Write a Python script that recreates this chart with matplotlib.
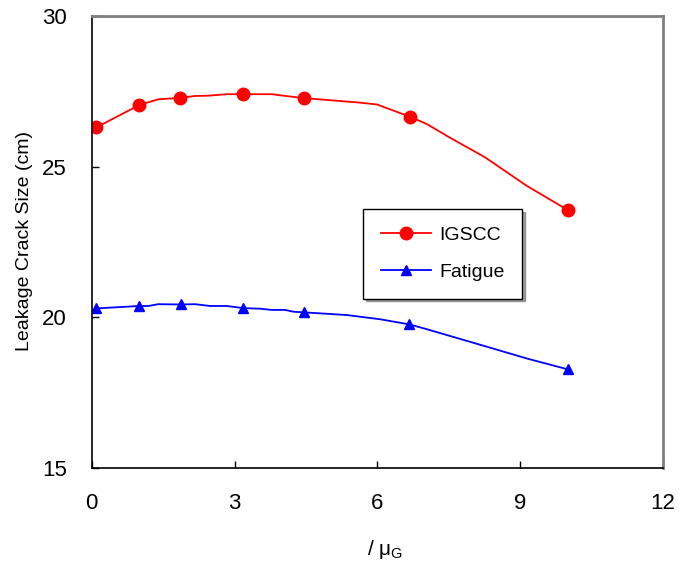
import matplotlib
matplotlib.use("Agg")
import matplotlib.pyplot as plt

plt.rcParams['font.family'] = ['Liberation Sans', 'DejaVu Sans']
plt.rcParams['mathtext.fontset'] = 'custom'
plt.rcParams['mathtext.rm'] = 'Liberation Sans'
plt.rcParams['mathtext.it'] = 'Liberation Sans'

# IGSCC curve
igscc_x = [0.1, 1.0, 1.4, 1.86, 2.17, 2.45, 2.84, 3.18, 3.78, 4.03, 4.45, 5.57, 5.99, 6.69, 7.04, 7.49, 8.26, 9.14, 10.0]
igscc_y = [26.30, 27.04, 27.23, 27.28, 27.34, 27.35, 27.40, 27.40, 27.40, 27.35, 27.27, 27.13, 27.06, 26.65, 26.41, 25.99, 25.31, 24.36, 23.56]
igscc_marks = [0, 1, 3, 7, 10, 13, 18]

# Fatigue curve
fat_x = [0.1, 1.0, 1.19, 1.40, 1.87, 2.17, 2.49, 2.84, 3.18, 3.54, 3.78, 4.06, 4.24, 4.45, 5.36, 6.06, 6.67, 7.04, 8.30, 9.14, 10.0]
fat_y = [20.30, 20.38, 20.38, 20.44, 20.43, 20.44, 20.38, 20.38, 20.31, 20.29, 20.25, 20.25, 20.19, 20.17, 20.08, 19.94, 19.77, 19.61, 19.03, 18.64, 18.28]
fat_marks = [0, 1, 4, 8, 13, 16, 20]

x_ticks = [0, 3, 6, 9, 12]
y_ticks = [15, 20, 25, 30]

fig = plt.figure(figsize=(6.79, 5.62), dpi=100)
ax = fig.add_axes([0.135, 0.1667, 0.8415, 0.8053])

ax.plot(igscc_x, igscc_y, color='#ff0000', lw=1.3, marker='o', ms=9,
        markevery=igscc_marks, label='IGSCC')
ax.plot(fat_x, fat_y, color='#0000ff', lw=1.3, marker='^', ms=7,
        markevery=fat_marks, label='Fatigue')

ax.set_xlim(0, 12)
ax.set_ylim(15, 30)
ax.set_xticks(x_ticks)
ax.set_yticks(y_ticks)
ax.tick_params(direction='in', length=5, width=1, labelsize=16, pad=18)

for s in ['left', 'bottom']:
    ax.spines[s].set_color('black')
    ax.spines[s].set_linewidth(1.2)
for s in ['top', 'right']:
    ax.spines[s].set_color('#808080')
    ax.spines[s].set_linewidth(2)

ax.set_ylabel('Leakage Crack Size (cm)', fontsize=14)
ax.yaxis.set_label_coords(-0.103, 0.502)
ax.set_xlabel(r'/ μ$_{\mathrm{G}}$', fontsize=15)
ax.xaxis.set_label_coords(0.513, -0.155)

leg = ax.legend(loc='upper left', bbox_to_anchor=(0.475, 0.573), fontsize=14,
                frameon=True, fancybox=False, shadow=True, borderpad=0.9,
                labelspacing=1.0, handlelength=2.6, handletextpad=0.4,
                borderaxespad=0)
leg.get_frame().set_edgecolor('black')
leg.get_frame().set_linewidth(1.0)

fig.savefig('out.png', dpi=100)
